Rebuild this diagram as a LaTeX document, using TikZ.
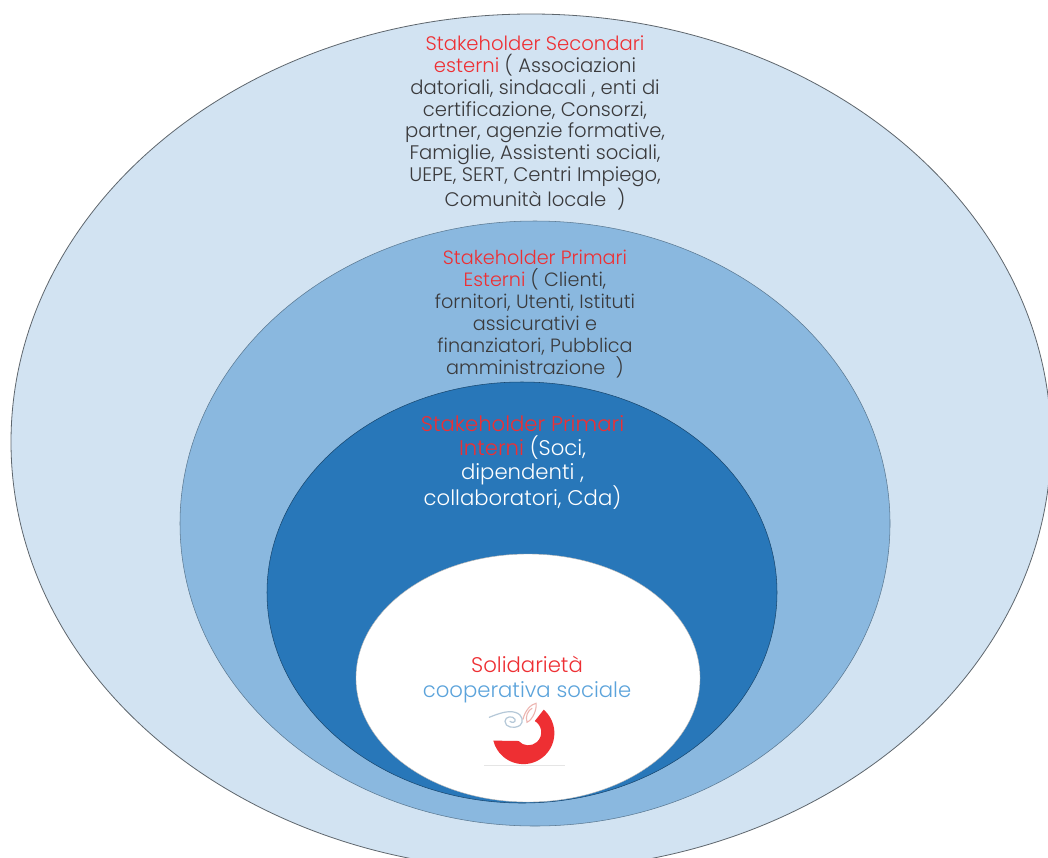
\documentclass[tikz,border=0pt]{standalone}
\usepackage{fontspec}
\setmainfont{Poppins Light}
\definecolor{cOuter}{HTML}{D2E3F2}
\definecolor{cMid}{HTML}{8AB8DF}
\definecolor{cInner}{HTML}{2877B9}
\definecolor{cRed}{HTML}{EE2F33}
\definecolor{cInk}{HTML}{3A3A3C}
\definecolor{cTeal}{HTML}{5BA3DB}
\definecolor{cSwirl}{HTML}{B5C8D8}
\definecolor{cClip}{HTML}{EDB5B0}
\tikzset{
  blocktext/.style={align=center,inner sep=0pt},
  small/.style={font=\fontsize{14.7}{16.4}\selectfont},
  medium/.style={font=\fontsize{14.4}{16.5}\selectfont},
  large/.style={font=\fontsize{15.9}{18}\selectfont},
  centre/.style={font=\fontsize{15.9}{18.8}\selectfont},
}
\begin{document}
\begin{tikzpicture}[x=0.75pt,y=-0.75pt]
\useasboundingbox (0,0) rectangle (1048,857);
\fill[white] (0,0) rectangle (1048,857);
\begin{scope}
\clip (0,0) rectangle (1048,857);
\fill[cOuter,draw=black!55!cOuter,line width=0.6pt] (531,442) ellipse [x radius=520,y radius=428];
\fill[cMid,draw=black!35!cMid,line width=0.4pt] (535,523.5) ellipse [x radius=355,y radius=302.5];
\fill[cInner,draw=black!40!cInner,line width=0.4pt] (522,592.5) ellipse [x radius=255,y radius=210.5];
\fill[white,draw=black!30,line width=0.3pt] (528,678) ellipse [x radius=172,y radius=124];
\end{scope}
\node[blocktext,small,text=cInk] (sec) at (535,123) {\textcolor{cRed}{Stakeholder Secondari}\\
\textcolor{cRed}{esterni} ( Associazioni\\
datoriali, sindacali , enti di\\
certificazione, Consorzi,\\
partner, agenzie formative,\\
Famiglie, Assistenti sociali,\\
UEPE, SERT, Centri Impiego,\\
Comunità locale~~)};
\node[blocktext,medium,text=cInk] (pes) at (535,314) {\textcolor{cRed}{Stakeholder Primari}\\
\textcolor{cRed}{Esterni} ( Clienti,\\
fornitori, Utenti, Istituti\\
assicurativi e\\
finanziatori, Pubblica\\
amministrazione~~)};
\node[blocktext,large,text=white] (pin) at (522.5,462.5) {\textcolor{cRed}{Stakeholder Primari}\\
\textcolor{cRed}{Interni} (Soci,\\
dipendenti ,\\
collaboratori, Cda)};
\node[blocktext,centre] (sol) at (527,679.5) {\textcolor{cRed}{Solidarietà}\\
\textcolor{cTeal}{cooperativa sociale}};
% logo
\begin{scope}[shift={(524,732.3)},x=0.75pt,y=0.75pt]
\fill[cRed] (19.7,22.6) arc[start angle=49,end angle=-166,radius=31]
 -- (-5.4,-8.7) arc[start angle=222,end angle=420,radius=13] -- cycle;
\draw[cSwirl,line width=0.9pt,line cap=round] (-34.7,15) .. controls (-25,19) and (-16,22) .. (-9,20)
 .. controls (-1,18) and (0,10) .. (-4,7) .. controls (-10,3) and (-19,5) .. (-19,11)
 .. controls (-19,16) and (-11,17) .. (-9,13) .. controls (-8,10) and (-12,9) .. (-14,11);
\draw[cClip,line width=0.8pt,line cap=round] (-1,13) .. controls (1,22) and (7,28) .. (12,29)
 .. controls (13,23) and (9,13) .. (3,10) .. controls (1,16) and (4,22) .. (8,24);
\draw[black!10,line width=0.4pt] (-40,-32.7) -- (41,-32.7);
\end{scope}
\end{tikzpicture}
\end{document}
